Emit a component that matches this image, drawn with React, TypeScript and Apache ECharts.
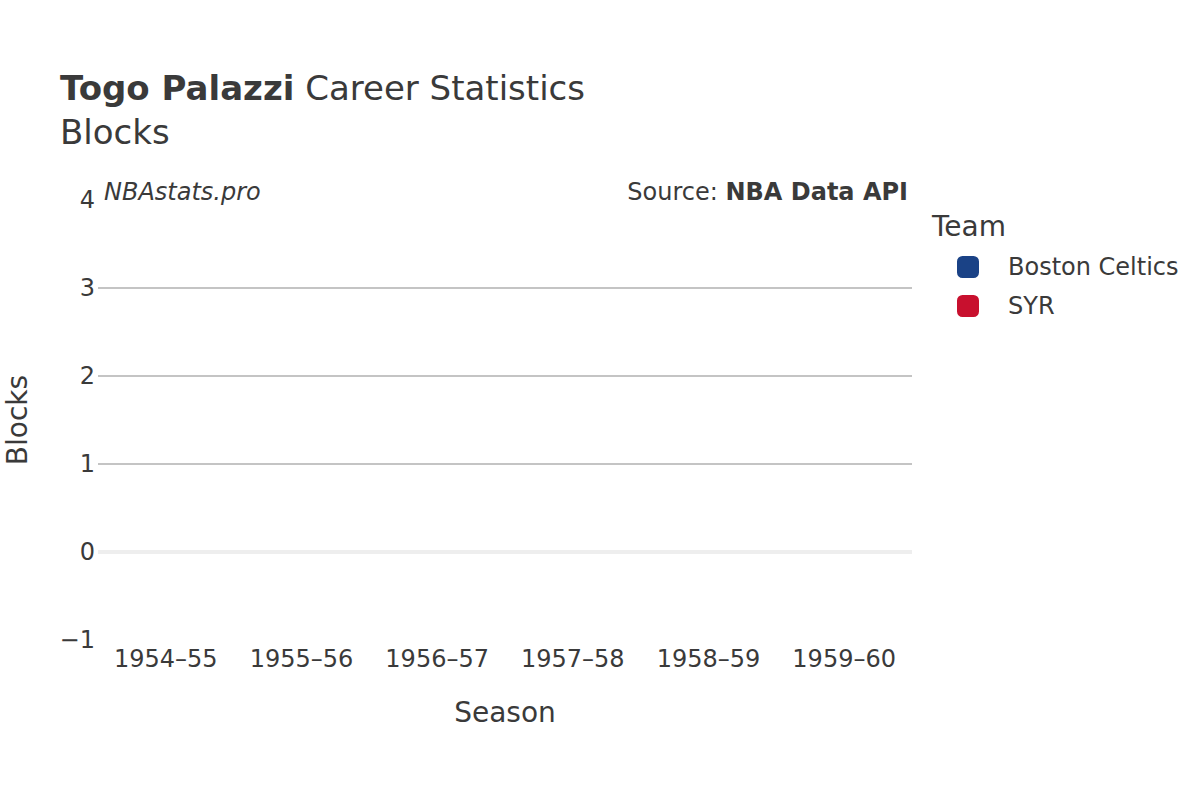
import React, { useRef, useEffect } from 'react'
import * as echarts from 'echarts'

const seasons = ['1954–55', '1955–56', '1956–57', '1957–58', '1958–59', '1959–60']
const teams = ['Boston Celtics', 'SYR']
const teamColors = ['#1a4286', '#c8102e']
// no blocks recorded in this era
const celticsBlocks: (number | null)[] = [null, null, null, null, null, null]
const syrBlocks: (number | null)[] = [null, null, null, null, null, null]
const gridValues = [1, 2, 3]

const textColor = '#3a3a3a'
const font = 'DejaVu Sans'

const App: React.FC = () => {
  const chartRef = useRef<HTMLDivElement>(null)

  useEffect(() => {
    if (!chartRef.current) return
    const chart = echarts.init(chartRef.current, undefined, { renderer: 'svg' })

    chart.setOption({
      animation: false,
      backgroundColor: '#ffffff',
      textStyle: { fontFamily: font },
      grid: { left: 98, right: 288, top: 200, bottom: 160, containLabel: false, outerBoundsMode: 'none' },
      title: {
        text: '{b|Togo Palazzi} Career Statistics',
        subtext: 'Blocks',
        left: 60,
        top: 71,
        padding: 0,
        itemGap: 10,
        textStyle: {
          fontFamily: font,
          fontSize: 34,
          fontWeight: 'normal',
          color: textColor,
          rich: { b: { fontFamily: font, fontSize: 34, fontWeight: 'bold', color: textColor } },
        },
        subtextStyle: { fontFamily: font, fontSize: 34, color: textColor },
      },
      legend: {
        orient: 'vertical',
        left: 957,
        top: 255,
        padding: 0,
        itemWidth: 22,
        itemHeight: 22,
        itemGap: 15,
        icon: 'roundRect',
        data: teams,
        textStyle: { fontFamily: font, fontSize: 24, color: textColor, padding: [0, 0, 0, 24] },
      },
      graphic: [
        {
          type: 'text',
          left: 932,
          top: 212,
          style: { text: 'Team', fontFamily: font, fontSize: 28, fill: textColor },
        },
        {
          type: 'text',
          left: 104,
          top: 180,
          style: { text: 'NBAstats.pro', fontFamily: font, fontSize: 24, fontStyle: 'italic', fill: textColor },
        },
        {
          type: 'text',
          right: 292,
          top: 180,
          style: {
            text: '{n|Source: }{b|NBA Data API}',
            rich: {
              n: { fontFamily: font, fontSize: 24, fill: textColor },
              b: { fontFamily: font, fontSize: 24, fontWeight: 'bold', fill: textColor },
            },
          },
        },
      ],
      xAxis: {
        type: 'category',
        data: seasons,
        boundaryGap: true,
        name: 'Season',
        nameLocation: 'middle',
        nameGap: 58,
        nameTextStyle: { fontFamily: font, fontSize: 28, color: textColor },
        axisLine: { show: false },
        axisTick: { show: false },
        axisLabel: { fontFamily: font, fontSize: 24, color: textColor, margin: 7, interval: 0 },
        splitLine: { show: false },
      },
      yAxis: {
        type: 'value',
        min: -1,
        max: 4,
        interval: 1,
        name: 'Blocks',
        nameLocation: 'middle',
        nameGap: 67,
        nameTextStyle: { fontFamily: font, fontSize: 28, color: textColor },
        axisLine: { show: false },
        axisTick: { show: false },
        axisLabel: {
          fontFamily: font,
          fontSize: 24,
          color: textColor,
          margin: 3,
          formatter: (v: number) => (v < 0 ? '−' + Math.abs(v) : String(v)),
        },
        splitLine: { show: false },
      },
      series: [
        {
          name: teams[0],
          type: 'line',
          data: celticsBlocks,
          color: teamColors[0],
          symbol: 'circle',
          symbolSize: 10,
          markLine: {
            silent: true,
            symbol: 'none',
            label: { show: false },
            data: [
              ...gridValues.map(v => ({ yAxis: v, lineStyle: { color: '#c4c4c4', width: 2, type: 'solid' } })),
              { yAxis: 0, lineStyle: { color: '#eeeeee', width: 4, type: 'solid' } },
            ],
          },
        },
        {
          name: teams[1],
          type: 'line',
          data: syrBlocks,
          color: teamColors[1],
          symbol: 'circle',
          symbolSize: 10,
        },
      ],
    })

    return () => chart.dispose()
  }, [])

  return <div ref={chartRef} style={{ position: 'absolute', left: 0, top: 0, width: 1200, height: 800 }} />
}

export default App
